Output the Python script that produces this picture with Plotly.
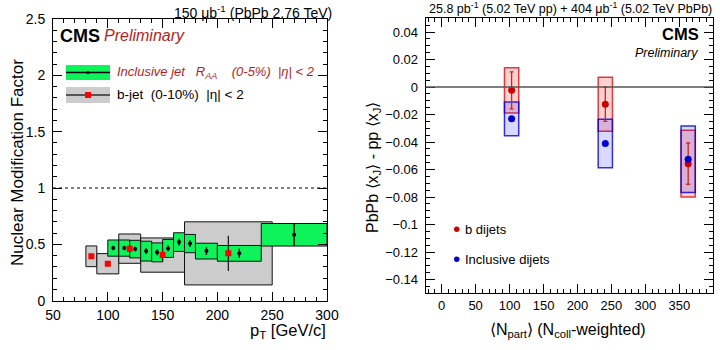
import plotly.graph_objects as go

# ---------------- Left panel: nuclear modification factor vs pT ----------------
incl_pt_lo = [100, 110, 120, 130, 140, 150, 160, 170, 180, 200, 240]
incl_pt_hi = [110, 120, 130, 140, 150, 160, 170, 180, 200, 240, 300]
incl_pt = [105, 115, 125, 135, 145, 155, 165, 175, 190, 220, 270]
incl_raa = [0.467, 0.467, 0.458, 0.44, 0.429, 0.464, 0.52, 0.507, 0.44, 0.42, 0.585]
incl_stat = [0.02, 0.02, 0.02, 0.025, 0.025, 0.025, 0.03, 0.03, 0.035, 0.04, 0.10]
incl_syst = [0.072, 0.072, 0.078, 0.088, 0.084, 0.08, 0.083, 0.081, 0.07, 0.07, 0.1]

bjet_pt_lo = [80, 90, 110, 130, 170]
bjet_pt_hi = [90, 110, 130, 170, 250]
bjet_pt = [85, 100, 120, 150, 210]
bjet_raa = [0.394, 0.328, 0.462, 0.405, 0.42]
bjet_stat = [0.02, 0.02, 0.03, 0.06, 0.157]
bjet_syst = [0.092, 0.09, 0.13, 0.152, 0.28]

# ---------------- Right panel: x_J shift vs Npart ----------------
npart = [103, 241, 363]
bdijet_dxj = [-0.0024, -0.0125, -0.0557]
bdijet_stat = [0.0135, 0.0125, 0.015]
bdijet_syst = [0.0165, 0.0196, 0.0243]
incdijet_dxj = [-0.0231, -0.041, -0.0525]
incdijet_stat = [0.001, 0.001, 0.001]
incdijet_syst = [0.0123, 0.0176, 0.0242]
NPART_BOX_WIDTH = 21

W, H = 720, 350
FONT = "Liberation Sans, Arial, Helvetica, sans-serif"
GREEN = "#0ef25a"
GREY = "#cccccc"


def px(x):
    return x / W


def py(y):
    return 1 - y / H


fig = go.Figure()

# b-jet systematic boxes
fig.add_trace(go.Bar(
    x=bjet_pt,
    y=[2 * s for s in bjet_syst],
    base=[v - s for v, s in zip(bjet_raa, bjet_syst)],
    width=[h - l for l, h in zip(bjet_pt_lo, bjet_pt_hi)],
    marker=dict(color=GREY, line=dict(color="#111111", width=1)),
    xaxis="x", yaxis="y", showlegend=False, hoverinfo="skip",
))
# inclusive-jet systematic boxes
fig.add_trace(go.Bar(
    x=incl_pt,
    y=[2 * s for s in incl_syst],
    base=[v - s for v, s in zip(incl_raa, incl_syst)],
    width=[h - l for l, h in zip(incl_pt_lo, incl_pt_hi)],
    marker=dict(color=GREEN, line=dict(color="#111111", width=1)),
    xaxis="x", yaxis="y", showlegend=False, hoverinfo="skip",
))
# inclusive-jet points
fig.add_trace(go.Scatter(
    x=incl_pt, y=incl_raa, mode="markers",
    marker=dict(color="black", size=4),
    error_y=dict(type="data", array=incl_stat, color="black", thickness=1.3, width=0),
    xaxis="x", yaxis="y", showlegend=False,
))
# b-jet points
fig.add_trace(go.Scatter(
    x=bjet_pt, y=bjet_raa, mode="markers",
    marker=dict(color="#ff0000", size=6, symbol="square"),
    error_y=dict(type="data", array=bjet_stat, color="#222222", thickness=1.3, width=0),
    xaxis="x", yaxis="y", showlegend=False,
))

# right panel systematic boxes
fig.add_trace(go.Bar(
    x=npart,
    y=[2 * s for s in bdijet_syst],
    base=[v - s for v, s in zip(bdijet_dxj, bdijet_syst)],
    width=[NPART_BOX_WIDTH] * len(npart),
    marker=dict(color="rgba(255,0,0,0.18)", line=dict(color="rgba(215,0,0,0.75)", width=1.5)),
    xaxis="x2", yaxis="y2", showlegend=False, hoverinfo="skip",
))
fig.add_trace(go.Bar(
    x=npart,
    y=[2 * s for s in incdijet_syst],
    base=[v - s for v, s in zip(incdijet_dxj, incdijet_syst)],
    width=[NPART_BOX_WIDTH] * len(npart),
    marker=dict(color="rgba(0,0,255,0.15)", line=dict(color="rgba(0,0,210,0.8)", width=1.5)),
    xaxis="x2", yaxis="y2", showlegend=False, hoverinfo="skip",
))
fig.add_trace(go.Scatter(
    x=npart, y=bdijet_dxj, mode="markers",
    marker=dict(color="#cc0000", size=7),
    error_y=dict(type="data", array=bdijet_stat, color="#cc2222", thickness=1.3, width=2),
    xaxis="x2", yaxis="y2", showlegend=False,
))
fig.add_trace(go.Scatter(
    x=npart, y=incdijet_dxj, mode="markers",
    marker=dict(color="#0000cc", size=7),
    error_y=dict(type="data", array=incdijet_stat, color="#0000cc", thickness=1, width=0),
    xaxis="x2", yaxis="y2", showlegend=False,
))

axis_common = dict(
    showgrid=False, zeroline=False, showline=True, linecolor="black", linewidth=1,
    mirror="ticks", ticks="inside", tickcolor="black", tickwidth=1, automargin=False,
)

fig.update_layout(
    width=W, height=H,
    margin=dict(l=0, r=0, t=0, b=0),
    paper_bgcolor="white", plot_bgcolor="white",
    barmode="overlay",
    font=dict(family=FONT, color="black"),
    xaxis=dict(
        domain=[px(53), px(327)], range=[50, 300], anchor="y",
        tick0=50, dtick=50, ticklen=9,
        minor=dict(dtick=10, ticklen=4, ticks="inside", tickcolor="black"),
        tickfont=dict(size=14), ticklabelstandoff=1, **axis_common,
    ),
    yaxis=dict(
        domain=[py(300.7), py(19)], range=[0, 2.5], anchor="x",
        tick0=0, dtick=0.5, ticklen=9,
        minor=dict(dtick=0.1, ticklen=4, ticks="inside", tickcolor="black"),
        tickfont=dict(size=14), ticklabelstandoff=4, **axis_common,
    ),
    xaxis2=dict(
        domain=[px(425.7), px(713.3)], range=[-23.5, 400], anchor="y2",
        tick0=0, dtick=50, ticklen=9,
        minor=dict(dtick=10, ticklen=4, ticks="inside", tickcolor="black"),
        tickfont=dict(size=13), **axis_common,
    ),
    yaxis2=dict(
        domain=[py(293.3), py(18.3)], range=[-0.15, 0.05], anchor="x2",
        tick0=0, dtick=0.02, ticklen=9,
        minor=dict(dtick=0.005, ticklen=4, ticks="inside", tickcolor="black"),
        tickfont=dict(size=13), ticklabelstandoff=4, **axis_common,
    ),
)

shapes = [
    # unity reference line
    dict(type="line", xref="x domain", yref="y", x0=0, x1=1, y0=1, y1=1,
         line=dict(color="black", width=1, dash="3px,3px")),
    # zero reference line
    dict(type="line", xref="x2 domain", yref="y2", x0=0, x1=1, y0=0, y1=0,
         line=dict(color="#555555", width=1.5)),
    # legend: inclusive jet
    dict(type="rect", xref="paper", yref="paper", x0=px(66), x1=px(110), y0=py(80), y1=py(65),
         fillcolor=GREEN, line=dict(width=0)),
    dict(type="line", xref="paper", yref="paper", x0=px(66), x1=px(110), y0=py(72.5), y1=py(72.5),
         line=dict(color="black", width=1.3)),
    dict(type="circle", xref="paper", yref="paper", x0=px(86.5), x1=px(89.5), y0=py(74), y1=py(71),
         fillcolor="black", line=dict(width=0)),
    # legend: b-jet
    dict(type="rect", xref="paper", yref="paper", x0=px(66), x1=px(110), y0=py(103), y1=py(87),
         fillcolor=GREY, line=dict(width=0)),
    dict(type="line", xref="paper", yref="paper", x0=px(66), x1=px(110), y0=py(95), y1=py(95),
         line=dict(color="#555555", width=1.8)),
    dict(type="rect", xref="paper", yref="paper", x0=px(85), x1=px(91), y0=py(98), y1=py(92),
         fillcolor="#ff0000", line=dict(width=0)),
    # legend markers, right panel
    dict(type="circle", xref="paper", yref="paper", x0=px(454), x1=px(459.5), y0=py(232), y1=py(226.5),
         fillcolor="#cc0000", line=dict(width=0)),
    dict(type="circle", xref="paper", yref="paper", x0=px(454), x1=px(459.5), y0=py(262), y1=py(256.5),
         fillcolor="#0000cc", line=dict(width=0)),
]
fig.update_layout(shapes=shapes)


def text(x, y, s, size, xanchor="left", color="black", textangle=0):
    fig.add_annotation(
        x=px(x), y=py(y), xref="paper", yref="paper", text=s, showarrow=False,
        xanchor=xanchor, yanchor="middle", textangle=textangle, borderpad=0,
        font=dict(family=FONT, size=size, color=color),
    )


RED_TXT = "#b21e1e"
SP2 = "&nbsp;&nbsp;"
# headers
text(333, 12, "150 μb<sup>-1</sup> (PbPb 2.76 TeV)", 14, xanchor="right")
text(713, 8, "25.8 pb<sup>-1</sup> (5.02 TeV pp) + 404 μb<sup>-1</sup> (5.02 TeV PbPb)", 12.5, xanchor="right")

# left panel labels
text(59, 35.5, "<b>CMS</b>", 18)
text(103, 35.5, "<i>Preliminary</i>", 16, color=RED_TXT)
text(116, 72, "<i>Inclusive jet&nbsp;&nbsp;&nbsp;R<sub>AA</sub>&nbsp;&nbsp;&nbsp;&nbsp;(0-5%)"
              + SP2 + "|η| &lt; 2</i>", 13, color=RED_TXT)
text(116, 95, "b-jet" + SP2 + "(0-10%)" + SP2 + "|η| &lt; 2", 13.5)
text(17, 163, "Nuclear Modification Factor", 17, xanchor="center", textangle=-90)
text(327, 331, "p<sub>T</sub> [GeV/c]", 16.5, xanchor="right")

# right panel labels
text(700, 34, "<b>CMS</b>", 16.5, xanchor="right")
text(699, 53, "<i>Preliminary</i>", 12.5, xanchor="right")
text(464, 229, "b dijets", 13)
text(464, 259, "Inclusive dijets", 13)
text(373, 168, "PbPb ⟨x<sub>J</sub>⟩ - pp ⟨x<sub>J</sub>⟩", 16, xanchor="center", textangle=-90)
text(568, 330, "⟨N<sub>part</sub>⟩ (N<sub>coll</sub>-weighted)", 16, xanchor="center")

fig.write_html("out.html", config={"displayModeBar": False})
